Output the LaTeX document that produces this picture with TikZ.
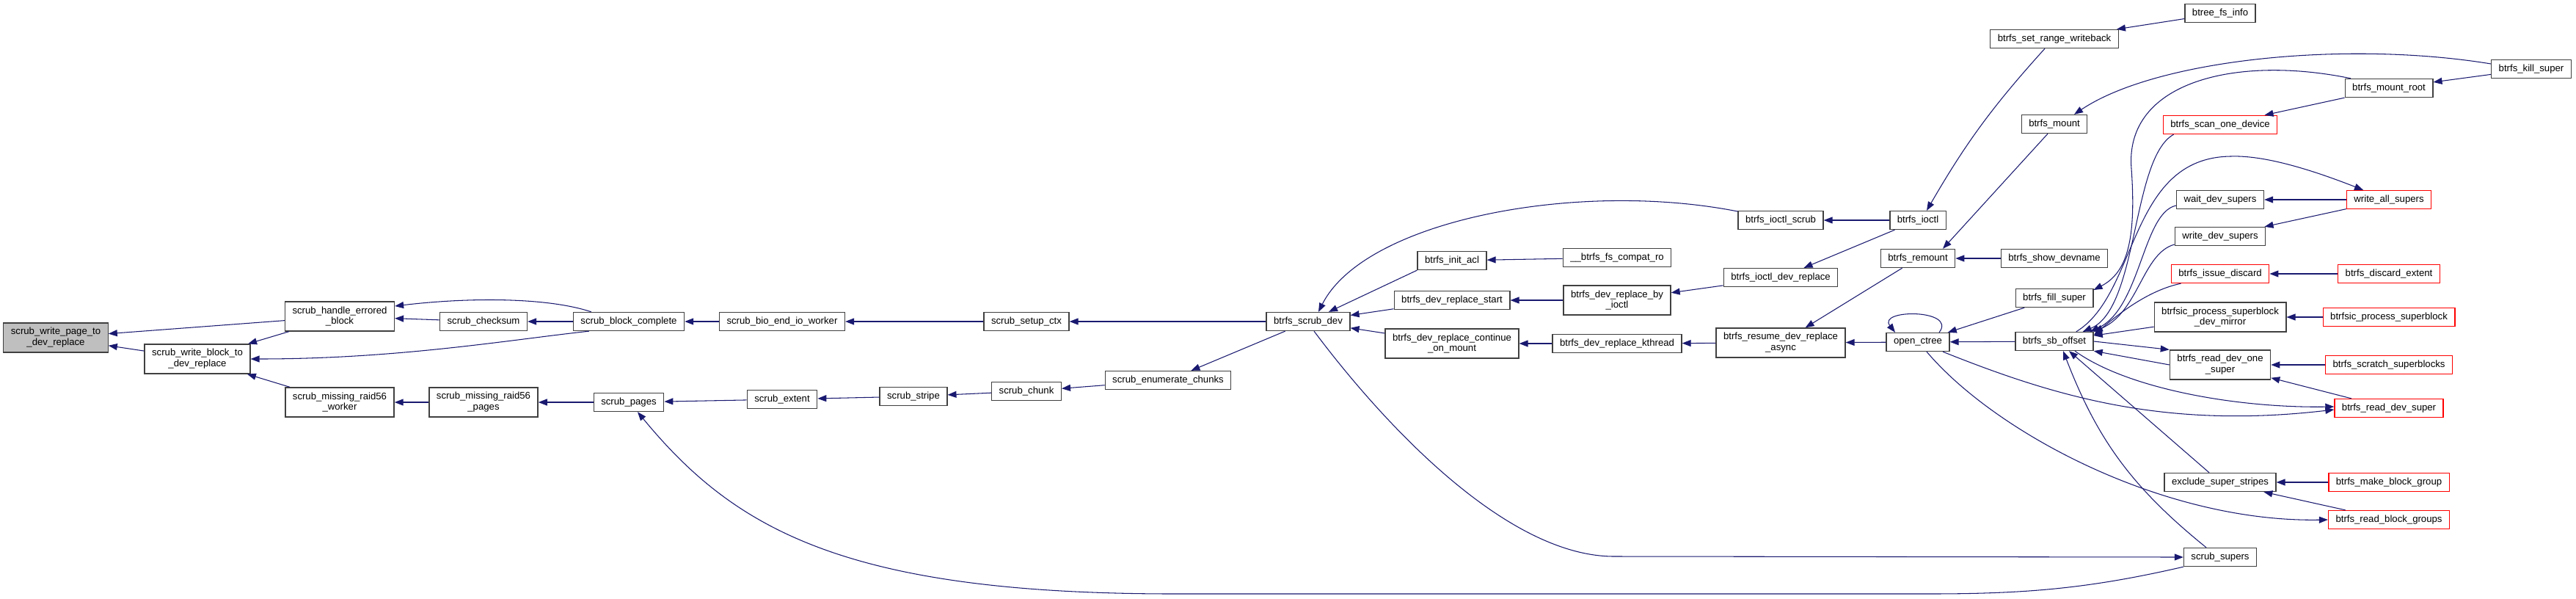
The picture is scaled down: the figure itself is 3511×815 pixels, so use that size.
\documentclass[tikz,border=0pt]{standalone}
\usepackage{fontspec}
\setmainfont{Liberation Sans}
\usepackage{xcolor}
\usetikzlibrary{arrows.meta,calc}

\definecolor{edgeblue}{HTML}{191970}
\definecolor{boxline}{HTML}{404040}
\definecolor{curgrey}{HTML}{BFBFBF}

\begin{document}
\begin{tikzpicture}[x=0.02cm, y=-0.02cm,
    >={Triangle[length=0.24cm,width=0.18cm]},
    fn/.style={draw=boxline, line width=0.75pt, fill=white, align=center,
        font=\fontsize{7.5}{8.5}\selectfont, inner xsep=0.2cm, inner ysep=0pt,
        minimum height=0.5cm},
    fn2/.style={fn, minimum height=0.8cm},
    fnred/.style={fn, draw=red},
    fncur/.style={fn2, fill=curgrey},
    call/.style={->, draw=edgeblue, line width=0.6pt}]
    \useasboundingbox (0,0) rectangle (3511,815);

    \node[fncur] (page) at (76,460) {scrub\_write\_page\_to\\\_dev\_replace};
    \node[fn2] (wblock) at (269,489) {scrub\_write\_block\_to\\\_dev\_replace};
    \node[fn2] (herr) at (463,431) {scrub\_handle\_errored\\\_block};
    \node[fn2] (mrw) at (463,548) {scrub\_missing\_raid56\\\_worker};
    \node[fn] (csum) at (659,438) {scrub\_checksum};
    \node[fn2] (mrp) at (659,548) {scrub\_missing\_raid56\\\_pages};
    \node[fn] (bcomp) at (857,438) {scrub\_block\_complete};
    \node[fn] (pages) at (857,548) {scrub\_pages};
    \node[fn] (bioend) at (1066,438) {scrub\_bio\_end\_io\_worker};
    \node[fn] (extent) at (1066,544) {scrub\_extent};
    \node[fn] (stripe) at (1245,540) {scrub\_stripe};
    \node[fn] (setup) at (1399,438) {scrub\_setup\_ctx};
    \node[fn] (chunk) at (1399,533) {scrub\_chunk};
    \node[fn] (enum) at (1592,518) {scrub\_enumerate\_chunks};
    \node[fn] (scrubdev) at (1783,438) {btrfs\_scrub\_dev};

    \node[fn] (initacl) at (1979,355) {btrfs\_init\_acl};
    \node[fn] (drstart) at (1979,409) {btrfs\_dev\_replace\_start};
    \node[fn2] (drcont) at (1979,468) {btrfs\_dev\_replace\_continue\\\_on\_mount};
    \node[fn] (compat) at (2204,351) {\_\_btrfs\_fs\_compat\_ro};
    \node[fn2] (drioctl) at (2204,409) {btrfs\_dev\_replace\_by\\\_ioctl};
    \node[fn] (kthread) at (2204,468) {btrfs\_dev\_replace\_kthread};
    \node[fn] (ioctlscrub) at (2427,300) {btrfs\_ioctl\_scrub};
    \node[fn] (ioctldr) at (2427,378) {btrfs\_ioctl\_dev\_replace};
    \node[fn2] (resume) at (2427,467) {btrfs\_resume\_dev\_replace\\\_async};
    \node[fn] (ioctl) at (2614,300) {btrfs\_ioctl};
    \node[fn] (remount) at (2614,352) {btrfs\_remount};
    \node[fn] (opentree) at (2614,466) {open\_ctree};

    \node[fn] (setrange) at (2800,53) {btrfs\_set\_range\_writeback};
    \node[fn] (mount) at (2800,169) {btrfs\_mount};
    \node[fn] (showdev) at (2800,352) {btrfs\_show\_devname};
    \node[fn] (fillsuper) at (2800,406) {btrfs\_fill\_super};
    \node[fn] (sboffset) at (2800,465) {btrfs\_sb\_offset};

    \node[fn] (btreefs) at (3026,18) {btree\_fs\_info};
    \node[fnred] (scanone) at (3026,170) {btrfs\_scan\_one\_device};
    \node[fn] (waitdev) at (3026,272) {wait\_dev\_supers};
    \node[fn] (writedev) at (3026,322) {write\_dev\_supers};
    \node[fnred] (issuedisc) at (3026,373) {btrfs\_issue\_discard};
    \node[fn2] (procmirror) at (3026,432) {btrfsic\_process\_superblock\\\_dev\_mirror};
    \node[fn2] (readone) at (3026,497) {btrfs\_read\_dev\_one\\\_super};
    \node[fn] (exclude) at (3026,657) {exclude\_super\_stripes};
    \node[fn] (scrubsup) at (3026,759) {scrub\_supers};

    \node[fn] (mountroot) at (3256,120) {btrfs\_mount\_root};
    \node[fnred] (writeall) at (3256,272) {write\_all\_supers};
    \node[fnred] (discext) at (3256,373) {btrfs\_discard\_extent};
    \node[fnred] (procsb) at (3256,432) {btrfsic\_process\_superblock};
    \node[fnred] (scratch) at (3256,497) {btrfs\_scratch\_superblocks};
    \node[fnred] (readdev) at (3256,556) {btrfs\_read\_dev\_super};
    \node[fnred] (makebg) at (3256,657) {btrfs\_make\_block\_group};
    \node[fnred] (readbg) at (3256,708) {btrfs\_read\_block\_groups};
    \node[fn] (killsuper) at (3450,94) {btrfs\_kill\_super};

    \draw[call] (herr) -- (page);
    \draw[call] (wblock) -- (page);
    \draw[call] (herr) -- (wblock);
    \draw[call] (mrw) -- (wblock);
    \draw[call] ([xshift=0.44cm]bcomp.south west) .. controls +(-110,12) and +(200,0) .. (wblock.east);
    \draw[call] ([xshift=0.5cm]bcomp.north west) .. controls +(-60,-20) and +(100,-12) .. ([yshift=0.28cm]herr.east);
    \draw[call] (csum) -- (herr);
    \draw[call] (bcomp) -- (csum);
    \draw[call] (bioend) -- (bcomp);
    \draw[call] (setup) -- (bioend);
    \draw[call] (scrubdev) -- (setup);
    \draw[call] (mrp) -- (mrw);
    \draw[call] (pages) -- (mrp);
    \draw[call] (extent) -- (pages);
    \draw[call] (stripe) -- (extent);
    \draw[call] (chunk) -- (stripe);
    \draw[call] (enum) -- (chunk);
    \draw[call] (scrubdev) -- (enum);
    \draw[call] (scrubsup.south west) .. controls +(-130,30) and +(130,0) .. (2629,809)
        -- (1600,809) .. controls (1150,809) and (1000,720) .. ([xshift=0.24cm]pages.south);

    \draw[call] ([xshift=0.16cm]scrubdev.south) .. controls (1880,570) and (2050,758) .. (2200,758) -- (scrubsup.west);
    \draw[call] ([yshift=0.24cm]ioctlscrub.west) .. controls (2150,245) and (1860,300) .. ([xshift=0.28cm]scrubdev.north);
    \draw[call] (initacl.south west) -- ([xshift=0.56cm]scrubdev.north);
    \draw[call] (drstart) -- (scrubdev);
    \draw[call] (drcont) -- (scrubdev);
    \draw[call] (compat) -- (initacl);
    \draw[call] (drioctl) -- (drstart);
    \draw[call] (ioctldr) -- (drioctl);
    \draw[call] (kthread) -- (drcont);
    \draw[call] (resume) -- (kthread);
    \draw[call] (ioctl) -- (ioctlscrub);
    \draw[call] (ioctl) -- (ioctldr);
    \draw[call] (remount) -- (resume);
    \draw[call] (opentree) -- (resume);
    \draw[call] ([xshift=0.58cm]opentree.north) .. controls +(25,-32) and +(-25,-32) .. ([xshift=-0.62cm]opentree.north);

    \draw[call] ([xshift=-0.26cm]setrange.south) to[bend right=6] ([xshift=0.24cm]ioctl.north);
    \draw[call] (btreefs) -- (setrange);
    \draw[call] ([xshift=-0.18cm]mount.south) -- ([xshift=0.68cm]remount.north);
    \draw[call] (showdev) -- (remount);
    \draw[call] (fillsuper) -- (opentree);
    \draw[call] (sboffset) -- (opentree);

    \draw[call] ([yshift=0.14cm]killsuper.west) .. controls (3200,55) and (2940,80) .. ([xshift=0.54cm]mount.north);
    \draw[call] (killsuper) -- (mountroot);
    \draw[call] (mountroot) -- (scanone);
    \draw[call] ([xshift=-1.04cm]mountroot.north) .. controls (3050,75) and (2895,110) .. (2905,230)
        .. controls (2912,330) and (2898,372) .. ([yshift=0.22cm]fillsuper.east);
    \draw[call] ([xshift=0.3cm]scanone.south west) .. controls (2905,215) and (2915,420) .. ([xshift=-0.3cm]sboffset.north east);
    \draw[call] ([yshift=-0.16cm]waitdev.west) .. controls (2920,290) and (2918,420) .. ([xshift=-0.1cm]sboffset.north east);
    \draw[call] ([yshift=-0.22cm]writedev.west) .. controls (2920,345) and (2915,425) .. (sboffset.north east);
    \draw[call] ([xshift=0.28cm]issuedisc.south west) .. controls (2930,395) and (2890,425) .. ([yshift=-0.1cm]sboffset.north east);
    \draw[call] (procmirror) -- (sboffset);
    \draw[call] ([xshift=-0.48cm]sboffset.north east) .. controls (2915,400) and (2900,215) .. (3040,213)
        .. controls (3090,211) and (3160,235) .. ([xshift=-0.7cm]writeall.north);
    \draw[call] (sboffset.east) -- (readone.north west);
    \draw[call] (readone.west) -- (sboffset.south east);
    \draw[call] ([xshift=0.56cm]sboffset.south) .. controls (2900,530) and (3050,556) .. ([yshift=0.04cm]readdev.west);
    \draw[call] ([xshift=0.68cm]opentree.south) .. controls (2800,540) and (2950,585) .. ([yshift=-0.04cm]readdev.west);
    \draw[call] ([xshift=0.24cm]opentree.south) .. controls (2720,590) and (2950,712) .. (readbg.west);
    \draw[call] ([xshift=-0.38cm]scrubsup.north) to[bend left=15] ([xshift=0.24cm]sboffset.south);
    \draw[call] ([xshift=-0.3cm]exclude.north) -- ([xshift=0.4cm]sboffset.south);

    \draw[call] (makebg) -- (exclude);
    \draw[call] (readbg) -- (exclude);
    \draw[call] (scratch) -- (readone);
    \draw[call] (readdev) -- (readone);
    \draw[call] (procsb) -- (procmirror);
    \draw[call] (writeall) -- (waitdev);
    \draw[call] (writeall) -- (writedev);
    \draw[call] (discext) -- (issuedisc);
\end{tikzpicture}
\end{document}
